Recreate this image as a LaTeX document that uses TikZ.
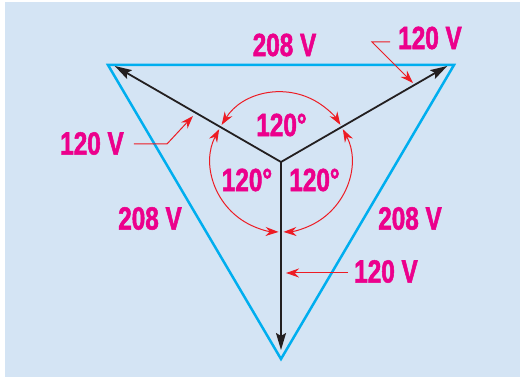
\documentclass[tikz,border=0pt]{standalone}
\usepackage{fontspec}
\newfontfamily\lblfont[FakeStretch=0.76, BoldFeatures={FakeBold=1.6}]{Liberation Sans}
\usetikzlibrary{arrows.meta, calc}
\definecolor{bgblue}{HTML}{D4E4F4}
\definecolor{tri}{HTML}{00AEEF}
\definecolor{mag}{HTML}{EC008C}
\definecolor{lead}{HTML}{ED1C24}
\definecolor{phasor}{HTML}{231F20}

\begin{document}
\begin{tikzpicture}[x=1pt, y=1pt,
  lbl/.style={text=mag, inner sep=0pt, font=\lblfont\bfseries\fontsize{32}{34}\selectfont},
  ph/.style={-{Stealth[length=17pt, width=10pt, inset=3pt]}, line width=1.8pt, phasor},
  ang/.style={{Stealth[length=13pt, width=9pt]}-{Stealth[length=13pt, width=9pt]}, line width=1pt, lead},
  ldr/.style={-{Stealth[length=13pt, width=9pt]}, line width=1pt, lead}]
  \useasboundingbox (0,0) rectangle (520,377);
  \fill[bgblue] (5,0) rectangle (520,375);
  \coordinate (O) at (281,215);
  \coordinate (tl) at (108,312);
  \coordinate (tr) at (454,312);
  \coordinate (bt) at (281,18);
  \draw[tri, line width=2.5pt, line join=miter] (tl) -- (tr) -- (bt) -- cycle;
  \foreach \n/\a/\l in {pa/150/192, pb/30/192, pc/270/188}
    \path (O) ++(\a:\l) coordinate (\n);
  \foreach \n in {pa, pb, pc} \draw[ph] (O) -- (\n);
  \draw[ang] ($(O)+(148:70)$) arc[start angle=148, end angle=32, radius=70];
  \draw[ang] ($(O)+(152:70)$) arc[start angle=152, end angle=268, radius=70];
  \draw[ang] ($(O)+(28:70)$) arc[start angle=28, end angle=-88, radius=70];
  \node[lbl] (v208t) at (284.5,332) {208 V};
  \node[lbl] (v208l) at (150,158.5) {208 V};
  \node[lbl] (v208r) at (410,158.5) {208 V};
  \node[lbl] (v120tr) at (430,339) {120 V};
  \node[lbl] (v120l) at (92,233.5) {120 V};
  \node[lbl] (v120br) at (386,105.5) {120 V};
  \node[lbl] (degt) at (281.5,252) {120°};
  \node[lbl] (degl) at (247,197) {120°};
  \node[lbl] (degr) at (314.5,197) {120°};
  \coordinate (ktr) at (413,294);
  \coordinate (kl) at (193,261);
  \coordinate (kbr) at (286,104);
  \draw[ldr] ($(v120tr.west)+(-8,-4)$) -- ++(-18,0) -- (ktr);
  \draw[ldr] ($(v120l.east)+(10,-0.5)$) -- ++(33,0) -- (kl);
  \draw[ldr] ($(v120br.west)+(-6,-1.5)$) -- (kbr);
\end{tikzpicture}
\end{document}
